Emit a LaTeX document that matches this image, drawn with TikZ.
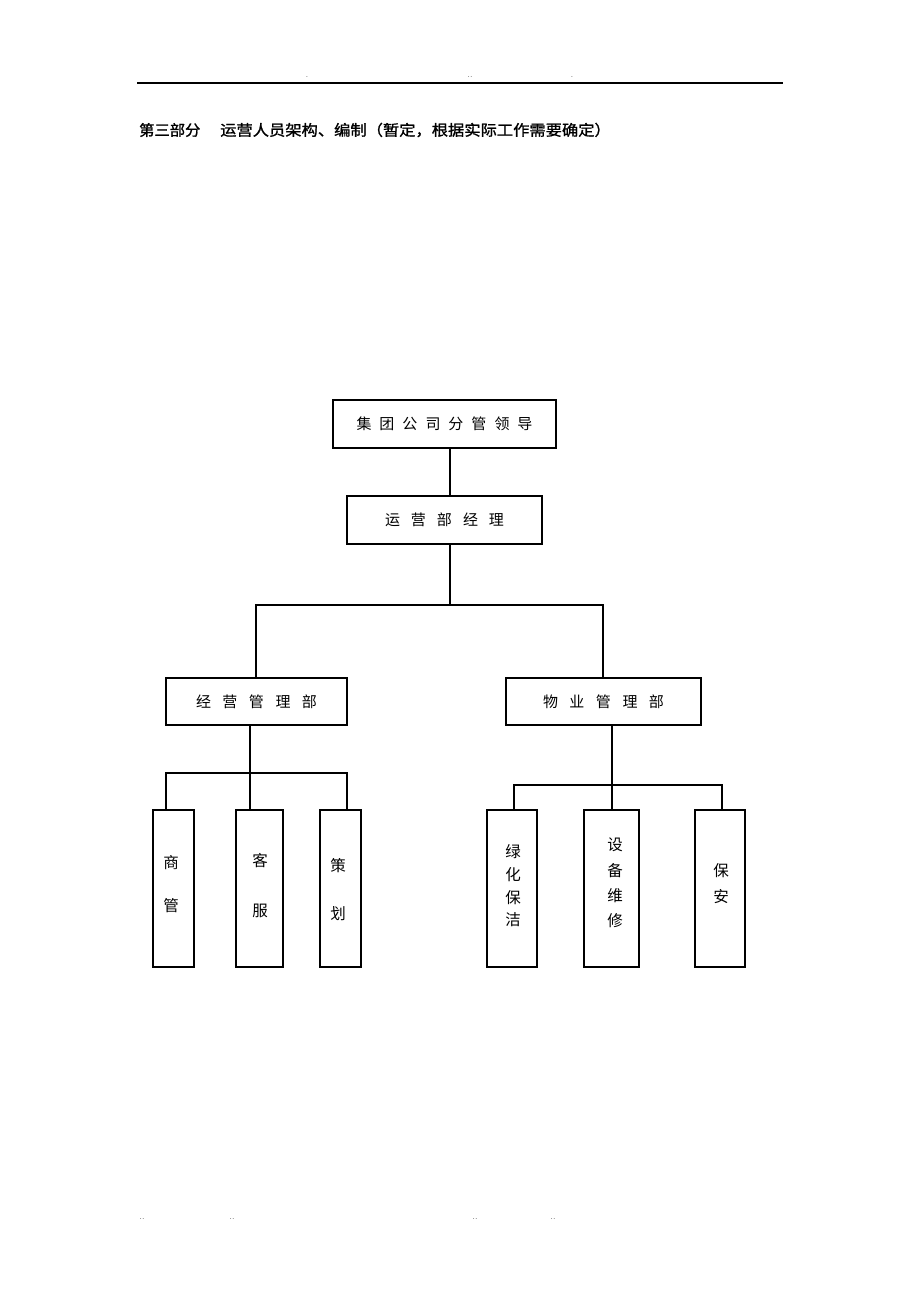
\documentclass[tikz,border=0pt]{standalone}
\usepackage{fontspec}
\newfontfamily\cjk{Noto Sans CJK SC}
\newfontfamily\cjkb[FakeBold=1.2]{Noto Sans CJK SC}
\begin{document}
\begin{tikzpicture}[x=1pt,y=-1pt,
  box/.style={draw,line width=1.2pt,inner sep=0pt,font=\cjk\fontsize{15}{15}\selectfont},
  conn/.style={line width=1.1pt},
  dots/.style={inner sep=0pt,font=\fontsize{8}{8}\selectfont},
  ttl/.style={anchor=west,inner sep=0pt,font=\cjkb\fontsize{15}{15}\selectfont}]
\useasboundingbox (0,0) rectangle (920,1302);
% header
\draw[line width=1.3pt] (137,83) -- (783,83);
\node[dots] (d1) at (307,77) {.};
\node[dots] (d2) at (470,77) {..};
\node[dots] (d3) at (572,77) {.};
\node[ttl] (title1) at (139,130) {\scalebox{1.02}[1]{第三部分}};
\node[ttl] (title2) at (220,130) {\scalebox{1.085}[1]{运营人员架构、编制（暂定，根据实际工作需要确定）}};
% footer
\node[dots] (f1) at (142,1219) {..};
\node[dots] (f2) at (232,1219) {..};
\node[dots] (f3) at (475,1219) {..};
\node[dots] (f4) at (553,1219) {..};
% boxes
\node[box,minimum width=223pt,minimum height=48pt] (top) at (444.5,424)
  {集\hspace{8pt}团\hspace{8pt}公\hspace{8pt}司\hspace{8pt}分\hspace{8pt}管\hspace{8pt}领\hspace{8pt}导};
\node[box,minimum width=195pt,minimum height=48pt] (mgr) at (444.5,520)
  {运\hspace{11pt}营\hspace{11pt}部\hspace{11pt}经\hspace{11pt}理};
\node[box,minimum width=181pt,minimum height=47pt] (jy) at (256.5,701.5)
  {经\hspace{11.5pt}营\hspace{11.5pt}管\hspace{11.5pt}理\hspace{11.5pt}部};
\node[box,minimum width=195pt,minimum height=47pt] (wy) at (603.5,701.5)
  {物\hspace{11.5pt}业\hspace{11.5pt}管\hspace{11.5pt}理\hspace{11.5pt}部};
\node[box,minimum width=41pt,minimum height=157pt] (sg) at (173.5,888.5) {};
\node[box,minimum width=47pt,minimum height=157pt] (kf) at (259.5,888.5) {};
\node[box,minimum width=41pt,minimum height=157pt] (ch) at (340.5,888.5) {};
\node[box,minimum width=50pt,minimum height=157pt] (lh) at (512,888.5) {};
\node[box,minimum width=55pt,minimum height=157pt] (sb) at (611.5,888.5) {};
\node[box,minimum width=50pt,minimum height=157pt] (ba) at (720,888.5) {};
% vertical texts
\tikzset{vt/.style={inner sep=0pt,font=\cjk\fontsize{15.5}{15.5}\selectfont}}
\node[vt] (t1) at (171,863) {商};
\node[vt] (t2) at (171,906) {管};
\node[vt] (t3) at (260,861) {客};
\node[vt] (t4) at (260,911) {服};
\node[vt] (t5) at (338,866) {策};
\node[vt] (t6) at (338,914) {划};
\node[vt] (t7) at (513,852) {绿};
\node[vt] (t8) at (513,875) {化};
\node[vt] (t9) at (513,898) {保};
\node[vt] (t10) at (513,920) {洁};
\node[vt] (t11) at (615,845) {设};
\node[vt] (t12) at (615,871) {备};
\node[vt] (t13) at (615,896) {维};
\node[vt] (t14) at (615,921) {修};
\node[vt] (t15) at (721,871) {保};
\node[vt] (t16) at (721,897) {安};
% connectors
\coordinate (c0) at (450,0);
\coordinate (bus1) at (0,605);
\coordinate (cl) at (256,0);
\coordinate (cr) at (603,0);
\draw[conn] (top.south -| c0) -- (mgr.north -| c0);
\draw[conn] (mgr.south -| c0) -- (bus1 -| c0);
\draw[conn] (jy.north -| cl) -- (bus1 -| cl) -- (bus1 -| cr) -- (wy.north -| cr);
% left subtree
\coordinate (bus2) at (0,773);
\coordinate (x1) at (166,0);
\coordinate (x2) at (250,0);
\coordinate (x3) at (347,0);
\draw[conn] (jy.south -| x2) -- (bus2 -| x2);
\draw[conn] (sg.north -| x1) -- (bus2 -| x1) -- (bus2 -| x3) -- (ch.north -| x3);
\draw[conn] (bus2 -| x2) -- (kf.north -| x2);
% right subtree
\coordinate (bus3) at (0,785);
\coordinate (y1) at (514,0);
\coordinate (y2) at (612,0);
\coordinate (y3) at (722,0);
\draw[conn] (wy.south -| y2) -- (bus3 -| y2);
\draw[conn] (lh.north -| y1) -- (bus3 -| y1) -- (bus3 -| y3) -- (ba.north -| y3);
\draw[conn] (bus3 -| y2) -- (sb.north -| y2);
\end{tikzpicture}
\end{document}
